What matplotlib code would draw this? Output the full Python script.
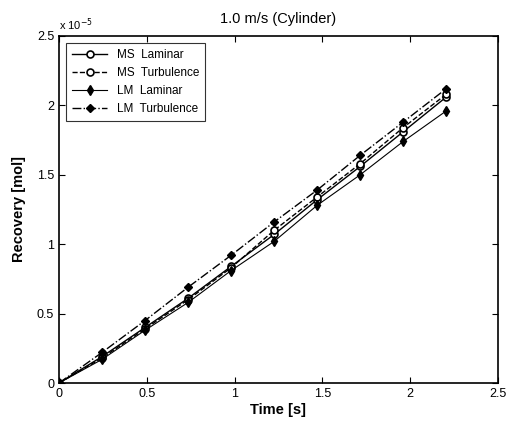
import matplotlib.pyplot as plt

plt.rcParams['font.family'] = ['Liberation Sans', 'DejaVu Sans']

# Time points [s]
time_s = [0, 0.245, 0.49, 0.735, 0.98, 1.225, 1.47, 1.715, 1.96, 2.205]

# Recovery [mol] (units of 1e-5)
ms_laminar = [0, 0.19, 0.40, 0.61, 0.84, 1.07, 1.32, 1.56, 1.81, 2.06]
ms_turbulence = [0, 0.18, 0.39, 0.60, 0.83, 1.10, 1.34, 1.58, 1.84, 2.08]
lm_laminar = [0, 0.17, 0.38, 0.58, 0.81, 1.02, 1.28, 1.50, 1.74, 1.96]
lm_turbulence = [0, 0.22, 0.45, 0.69, 0.92, 1.16, 1.39, 1.64, 1.88, 2.12]

scale = 1e-5

fig = plt.figure(figsize=(5.13, 4.23), dpi=100)
ax = fig.add_axes([59 / 513, 40 / 423, 439 / 513, 347 / 423])

ax.plot(time_s, [v * scale for v in ms_laminar], '-o', color='black', lw=1,
        ms=5, mfc='white', mew=1.2, label='MS  Laminar')
ax.plot(time_s, [v * scale for v in ms_turbulence], '--o', color='black', lw=1,
        ms=5, mfc='white', mew=1.2, label='MS  Turbulence')
ax.plot(time_s, [v * scale for v in lm_laminar], '-d', color='black', lw=0.8,
        ms=5, label='LM  Laminar')
ax.plot(time_s, [v * scale for v in lm_turbulence], '-.D', color='black', lw=1,
        ms=4.5, label='LM  Turbulence')

ax.set_xlim(0, 2.5)
ax.set_ylim(0, 2.5 * scale)
ax.set_xticks([0, 0.5, 1, 1.5, 2, 2.5])
ax.set_yticks([0, 0.5e-5, 1e-5, 1.5e-5, 2e-5, 2.5e-5])

ax.xaxis.set_major_formatter(plt.FuncFormatter(lambda v, p: '%g' % v))
ax.yaxis.set_major_formatter(plt.FuncFormatter(lambda v, p: '%g' % round(v / scale, 2)))
ax.text(0.0, 1.01, r'x 10$^{-5}$', transform=ax.transAxes, fontsize=8,
        ha='left', va='bottom')

ax.tick_params(direction='in', top=True, right=True, labelsize=9, length=4)
for s in ax.spines.values():
    s.set_linewidth(1.2)

ax.set_title('1.0 m/s (Cylinder)', fontsize=10.5, pad=9)
ax.set_xlabel('Time [s]', fontsize=10.5, fontweight='bold', labelpad=2)
ax.set_ylabel('Recovery [mol]', fontsize=10.5, fontweight='bold', labelpad=8)

leg = ax.legend(loc='upper left', fontsize=8.5, frameon=True, fancybox=False,
                edgecolor='black', handlelength=3, borderpad=0.5,
                labelspacing=0.5, borderaxespad=0.6)
leg.get_frame().set_linewidth(0.8)

fig.savefig('out.png', dpi=100)
